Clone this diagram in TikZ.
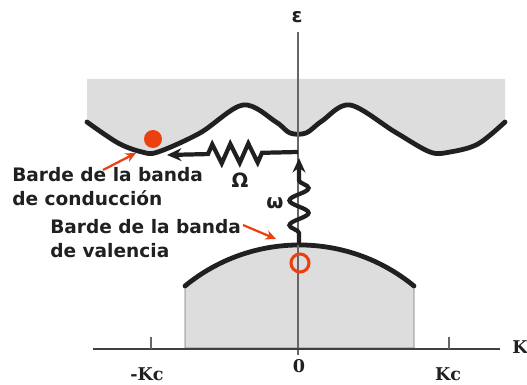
\documentclass[tikz,border=0pt]{standalone}
\usepackage{fontspec}
\setmainfont{DejaVu Sans}
\newfontfamily\slabfont{DejaVu Serif}
\usetikzlibrary{arrows.meta, decorations.pathmorphing, positioning}
\definecolor{bandgray}{RGB}{221,221,221}
\definecolor{carrier}{RGB}{236,64,16}
\definecolor{inkblack}{RGB}{32,32,32}

\begin{document}
\begin{tikzpicture}[
        x=0.025cm, y=-0.025cm,
        axis/.style={draw=black!60, line width=0.9pt},
        bandline/.style={draw=inkblack, line width=3.4pt, line cap=round},
        transition/.style={draw=inkblack, line width=3pt, -{Stealth[length=0.36cm, width=0.32cm]}},
        pointer/.style={draw=carrier, line width=1.6pt, -{Stealth[length=0.26cm, width=0.24cm]}},
        edgetext/.style={font=\bfseries\fontsize{13.2}{17.5}\selectfont, align=left, inner sep=0pt, text=inkblack},
        symtext/.style={font=\bfseries\fontsize{14}{16}\selectfont, inner sep=0pt, text=inkblack},
        ticktext/.style={font=\slabfont\bfseries\fontsize{12.5}{14}\selectfont, inner sep=0pt, text=inkblack}
    ]
        \useasboundingbox (0,0) rectangle (527,385);

        % Bands
        \fill[bandgray] (87,79) -- plot[smooth, tension=0.55] coordinates {(87,122) (118,143) (142,152) (158,152) (200,133) (243,105) (276,122) (290,133) (306,133) (322,121) (350,105) (395,132) (430,152) (450,152) (478,144) (505,122)} -- (505,79) -- cycle;
        \draw[bandline] plot[smooth, tension=0.55] coordinates {(87,122) (118,143) (142,152) (158,152) (200,133) (243,105) (276,122) (290,133) (306,133) (322,121) (350,105) (395,132) (430,152) (450,152) (478,144) (505,122)};
        \filldraw[fill=bandgray, draw=black!55, line width=0.5pt] (185,348) -- (185,286) .. controls (251.6,231.3) and (347.4,231.3) .. (414,286) -- (414,348) -- cycle;
        \draw[bandline] (185,286) .. controls (251.6,231.3) and (347.4,231.3) .. (414,286);

        % Axes
        \node[symtext] (eps) at (297,17) {ε};
        \coordinate (ktop) at (298,32);
        \coordinate (kbot) at (298,355);
        \draw[axis] (ktop) -- (kbot);
        \coordinate (kleft) at (93,349);
        \coordinate (kright) at (500,349);
        \draw[axis, draw=black!75] (kleft) -- (kright);
        \node[ticktext] (kaxis) at (520,347) {K};
        \coordinate (tickl) at (151,337);
        \coordinate (tickr) at (449,337);
        \draw[axis] (tickl) -- (tickl |- kleft);
        \draw[axis] (tickr) -- (tickr |- kleft);
        \node[ticktext] (kcneg) at (147,374) {-Kc};
        \node[ticktext] (zero) at (299,366) {0};
        \node[ticktext] (kcpos) at (448,374) {Kc};

        % Carriers
        \fill[carrier] (153,139) circle (9);
        \draw[carrier, line width=2.2pt] (300,263) circle (9);

        % Transitions
        \coordinate (vbtop) at (299,245);
        \coordinate (phtip) at (299,158);
        \coordinate (omstart) at (298,152);
        \coordinate (cbedge) at (167,155);
        \draw[transition, decorate, decoration={snake, segment length=0.62cm, amplitude=0.24cm, pre length=0.3cm, post length=0.55cm}] (vbtop) -- (phtip);
        \draw[transition, decorate, decoration={zigzag, segment length=0.45cm, amplitude=0.24cm, pre length=0.9cm, post length=0.95cm}] (omstart) -- (cbedge);
        \node[symtext] (bigomega) at (240,180) {Ω};
        \node[symtext] (smallomega) at (275,203) {ω};

        % Labels
        \node[edgetext, anchor=north west] (cblabel) at (12,167) {Barde de la banda\\de conducción};
        \node[edgetext, anchor=north west] (vblabel) at (50,219) {Barde de la banda\\de valencia};
        \coordinate (cbtail) at (103,170);
        \coordinate (cbhead) at (136,153);
        \coordinate (vbtail) at (243,225);
        \coordinate (vbhead) at (276,239);
        \draw[pointer] (cbtail) -- (cbhead);
        \draw[pointer] (vbtail) -- (vbhead);
    \end{tikzpicture}
\end{document}
